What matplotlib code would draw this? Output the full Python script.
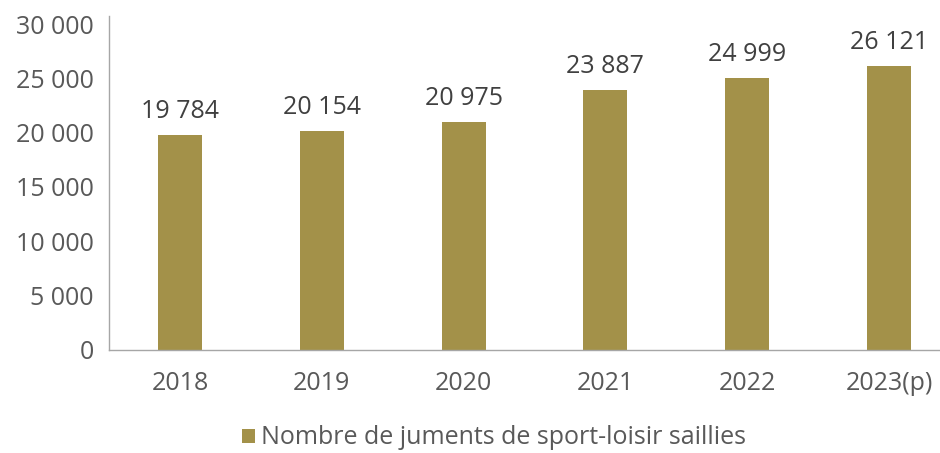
import matplotlib
matplotlib.use("Agg")
import matplotlib.pyplot as plt
from matplotlib.patches import Patch
from matplotlib.ticker import FuncFormatter

categories = ["2018", "2019", "2020", "2021", "2022", "2023(p)"]
values = [19784, 20154, 20975, 23887, 24999, 26121]
series_name = "Nombre de juments de sport-loisir saillies"

plt.rcParams['font.family'] = ['Open Sans', 'DejaVu Sans']

def fmt(v):
    return f"{int(v):,}".replace(",", " ")

color = "#A39149"
fs = 18
fig = plt.figure(figsize=(9.4, 4.53), dpi=100)
ax = fig.add_axes([0.116, 0.2274, 0.884, 0.7196])
x = range(len(categories))
bars = ax.bar(x, values, width=0.31, color=color)
for xi, v in zip(x, values):
    ax.annotate(fmt(v), (xi, v), xytext=(0, 8), textcoords="offset points",
                ha="center", va="bottom", fontsize=fs, color="#404040")

ax.set_xlim(-0.5, 5.36)
ax.set_ylim(0, 30000)
ax.set_yticks(range(0, 30001, 5000))
ax.yaxis.set_major_formatter(FuncFormatter(lambda v, p: fmt(v)))
ax.set_xticks(list(x))
ax.set_xticklabels(categories)
ax.tick_params(axis="both", length=0, labelsize=fs, labelcolor="#595959")
ax.tick_params(axis="y", pad=11)
ax.tick_params(axis="x", pad=15)
for s in ["top", "right"]:
    ax.spines[s].set_visible(False)
for s in ["left", "bottom"]:
    ax.spines[s].set_color("#A6A6A6")
    ax.spines[s].set_linewidth(1.0)
ax.spines["left"].set_bounds(0, 30700)
ax.set_clip_on(False)

fig.legend(handles=[Patch(facecolor=color, label=series_name)],
           loc="center", bbox_to_anchor=(494/940, 1-438/453), frameon=False,
           fontsize=fs, labelcolor="#595959", handlelength=0.5, handleheight=0.5,
           handletextpad=0.25)
fig.savefig("out.png", dpi=100)
